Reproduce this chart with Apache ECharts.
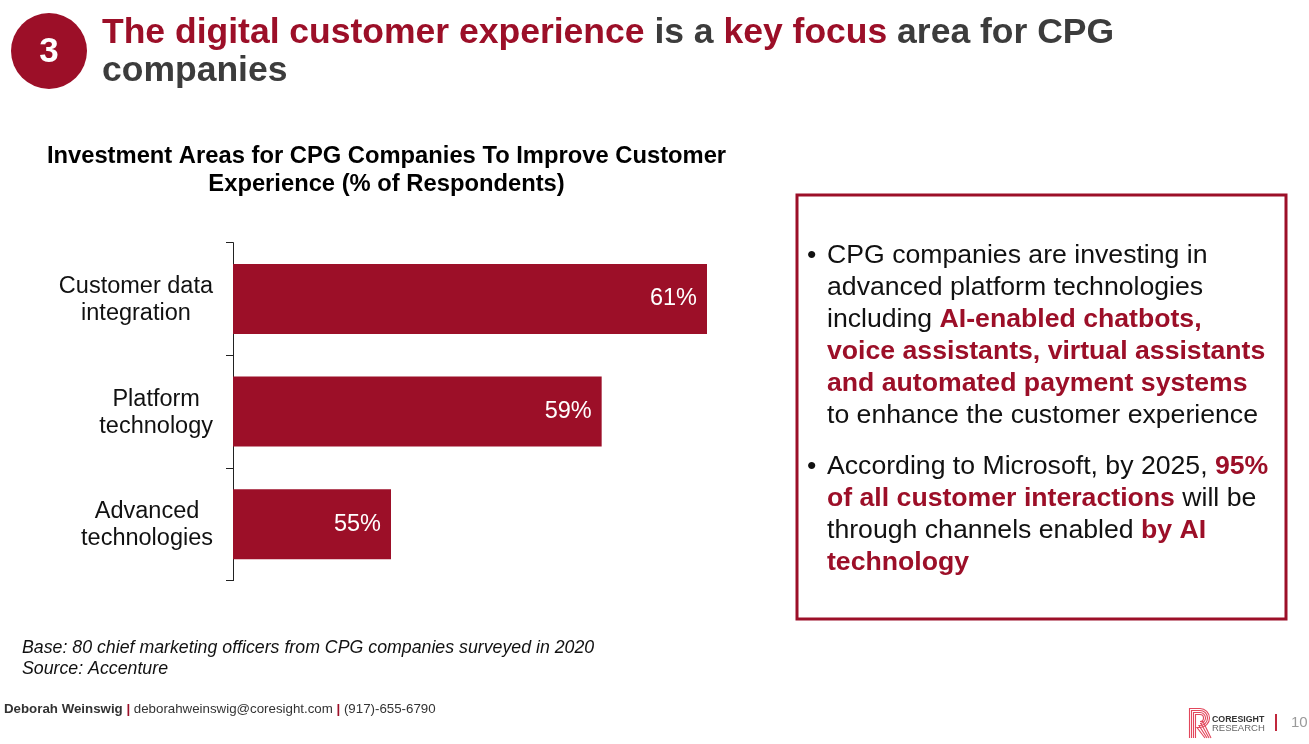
<!DOCTYPE html>
<html><head><meta charset="utf-8">
<style>html,body{margin:0;padding:0;background:#fff}#c{width:1309px;height:744px}</style>
<script src="https://cdn.jsdelivr.net/npm/echarts@6/dist/echarts.min.js"></script>
</head><body><div id="c"></div>
<script>
const categories = ['Customer data\nintegration', 'Platform\ntechnology', 'Advanced\ntechnologies'];
const values = [61, 59, 55];
const chartTitle = 'Investment Areas for CPG Companies To Improve Customer\nExperience (% of Respondents)';
const RED = '#9c0f28', DARK = '#3c3c3c';
const FONT = '"Liberation Sans", Arial, sans-serif';
const bulletLines = [
  {y:256, bullet:true, parts:[['CPG companies are investing in',0]]},
  {y:288, parts:[['advanced platform technologies',0]]},
  {y:320, parts:[['including ',0],['AI-enabled chatbots,',1]]},
  {y:352, parts:[['voice assistants, virtual assistants',1]]},
  {y:384, parts:[['and automated payment systems',1]]},
  {y:416, parts:[['to enhance the customer experience',0]]},
  {y:467, bullet:true, parts:[['According to Microsoft, by 2025, ',0],['95%',1]]},
  {y:499, parts:[['of all customer interactions',1],[' will be',0]]},
  {y:531, parts:[['through channels enabled ',0],['by AI',1]]},
  {y:563, parts:[['technology',1]]}
];
const sourceLines = ['Base: 80 chief marketing officers from CPG companies surveyed in 2020', 'Source: Accenture'];

function richLine(parts){return parts.map(p=>'{'+(p[1]?'b':'n')+'|'+p[0]+'}').join('');}
const bodyRich = {
  n:{fontFamily:FONT,fontSize:26.65,fill:'#111'},
  b:{fontFamily:FONT,fontSize:26.65,fontWeight:'bold',fill:RED}
};
const headRich = {
  r:{fontFamily:FONT,fontSize:35.5,fontWeight:'bold',fill:RED},
  d:{fontFamily:FONT,fontSize:35.5,fontWeight:'bold',fill:DARK}
};
const footRich = {
  b:{fontFamily:FONT,fontSize:13.3,fontWeight:'bold',fill:'#333'},
  n:{fontFamily:FONT,fontSize:13.3,fill:'#333'},
  r:{fontFamily:FONT,fontSize:13.3,fontWeight:'bold',fill:RED}
};
const graphics = [
  {type:'circle',shape:{cx:49,cy:51,r:38},style:{fill:RED}},
  {type:'text',x:49,y:52,style:{text:'3',fill:'#fff',font:'bold 35px '+FONT,align:'center',verticalAlign:'middle'}},
  {type:'text',x:102,y:33,style:{text:'{r|The digital customer experience}{d| is a }{r|key focus}{d| area for CPG}',rich:headRich,verticalAlign:'middle'}},
  {type:'text',x:102,y:71,style:{text:'{d|companies}',rich:headRich,verticalAlign:'middle'}},
  {type:'rect',shape:{x:797,y:195,width:489,height:424},style:{fill:'none',stroke:RED,lineWidth:3}},
  {type:'text',x:22,y:648,style:{text:sourceLines[0],fill:'#111',font:'italic 17.75px '+FONT,verticalAlign:'middle'}},
  {type:'text',x:22,y:669,style:{text:sourceLines[1],fill:'#111',font:'italic 17.75px '+FONT,verticalAlign:'middle'}},
  {type:'text',x:4,y:709,style:{text:'{b|Deborah Weinswig}{r| | }{n|deborahweinswig@coresight.com}{r| | }{n|(917)-655-6790}',rich:footRich,verticalAlign:'middle'}},
  {type:'text',x:1212,y:720,style:{text:'CORESIGHT',fill:'#333',font:'bold 8.8px '+FONT,verticalAlign:'middle'}},
  {type:'text',x:1212,y:728,style:{text:'RESEARCH',fill:'#666',font:'9.5px '+FONT,verticalAlign:'middle'}},
  {type:'rect',shape:{x:1275,y:714,width:2,height:17},style:{fill:'#c0283c'}},
  {type:'text',x:1291,y:723,style:{text:'10',fill:'#9a9a9a',font:'15px '+FONT,verticalAlign:'middle'}}
];
[0,1,2,3].forEach(i=>{
  const d=i*2, c='#e2475c';
  graphics.push({type:'polyline',shape:{points:[[1189.5+d,738],[1189.5+d,708.5+d],[1200,708.5+d]]},style:{fill:'none',stroke:c,lineWidth:1.1}});
  graphics.push({type:'arc',shape:{cx:1200,cy:718,r:9.5-d,startAngle:-Math.PI/2,endAngle:Math.PI/2,clockwise:true},style:{fill:'none',stroke:c,lineWidth:1.1}});
  graphics.push({type:'polyline',shape:{points:[[1200,727.5-d],[1197+d,727.5-d],[1205+d,738]]},style:{fill:'none',stroke:c,lineWidth:1.1}});
});
bulletLines.forEach(l=>{
  if(l.bullet) graphics.push({type:'text',x:807,y:l.y,style:{text:'•',fill:'#111',font:'26.65px '+FONT,verticalAlign:'middle'}});
  graphics.push({type:'text',x:827,y:l.y,style:{text:richLine(l.parts),rich:bodyRich,verticalAlign:'middle'}});
});
const chart = echarts.init(document.getElementById('c'),null,{renderer:'canvas'});
chart.setOption({
  animation:false,
  backgroundColor:'#fff',
  title:{text:chartTitle,left:381.5,top:137,textAlign:'center',textStyle:{fontFamily:FONT,fontSize:23.75,fontWeight:'bold',color:'#000',lineHeight:28}},
  grid:{left:233,top:242.6,width:474,height:338,containLabel:false},
  xAxis:{type:'value',min:52,max:61,show:false},
  yAxis:{type:'category',inverse:true,data:categories,
    axisLine:{show:true,lineStyle:{color:'#222',width:1}},
    axisTick:{show:true,length:7,lineStyle:{color:'#222',width:1}},
    axisLabel:{margin:20,align:'right',
      formatter:v=>v.split('\n').map(s=>'{c|'+s+'}').join('\n'),
      rich:{c:{fontFamily:FONT,fontSize:23.5,color:'#111',lineHeight:27,align:'center',padding:[2,0,0,0]}}}},
  series:[{type:'bar',data:values,barWidth:70,itemStyle:{color:RED},
    label:{show:true,position:'insideRight',distance:10,formatter:'{c}%',color:'#fff',fontFamily:FONT,fontSize:23.5}}],
  graphic:graphics
});
</script></body></html>
